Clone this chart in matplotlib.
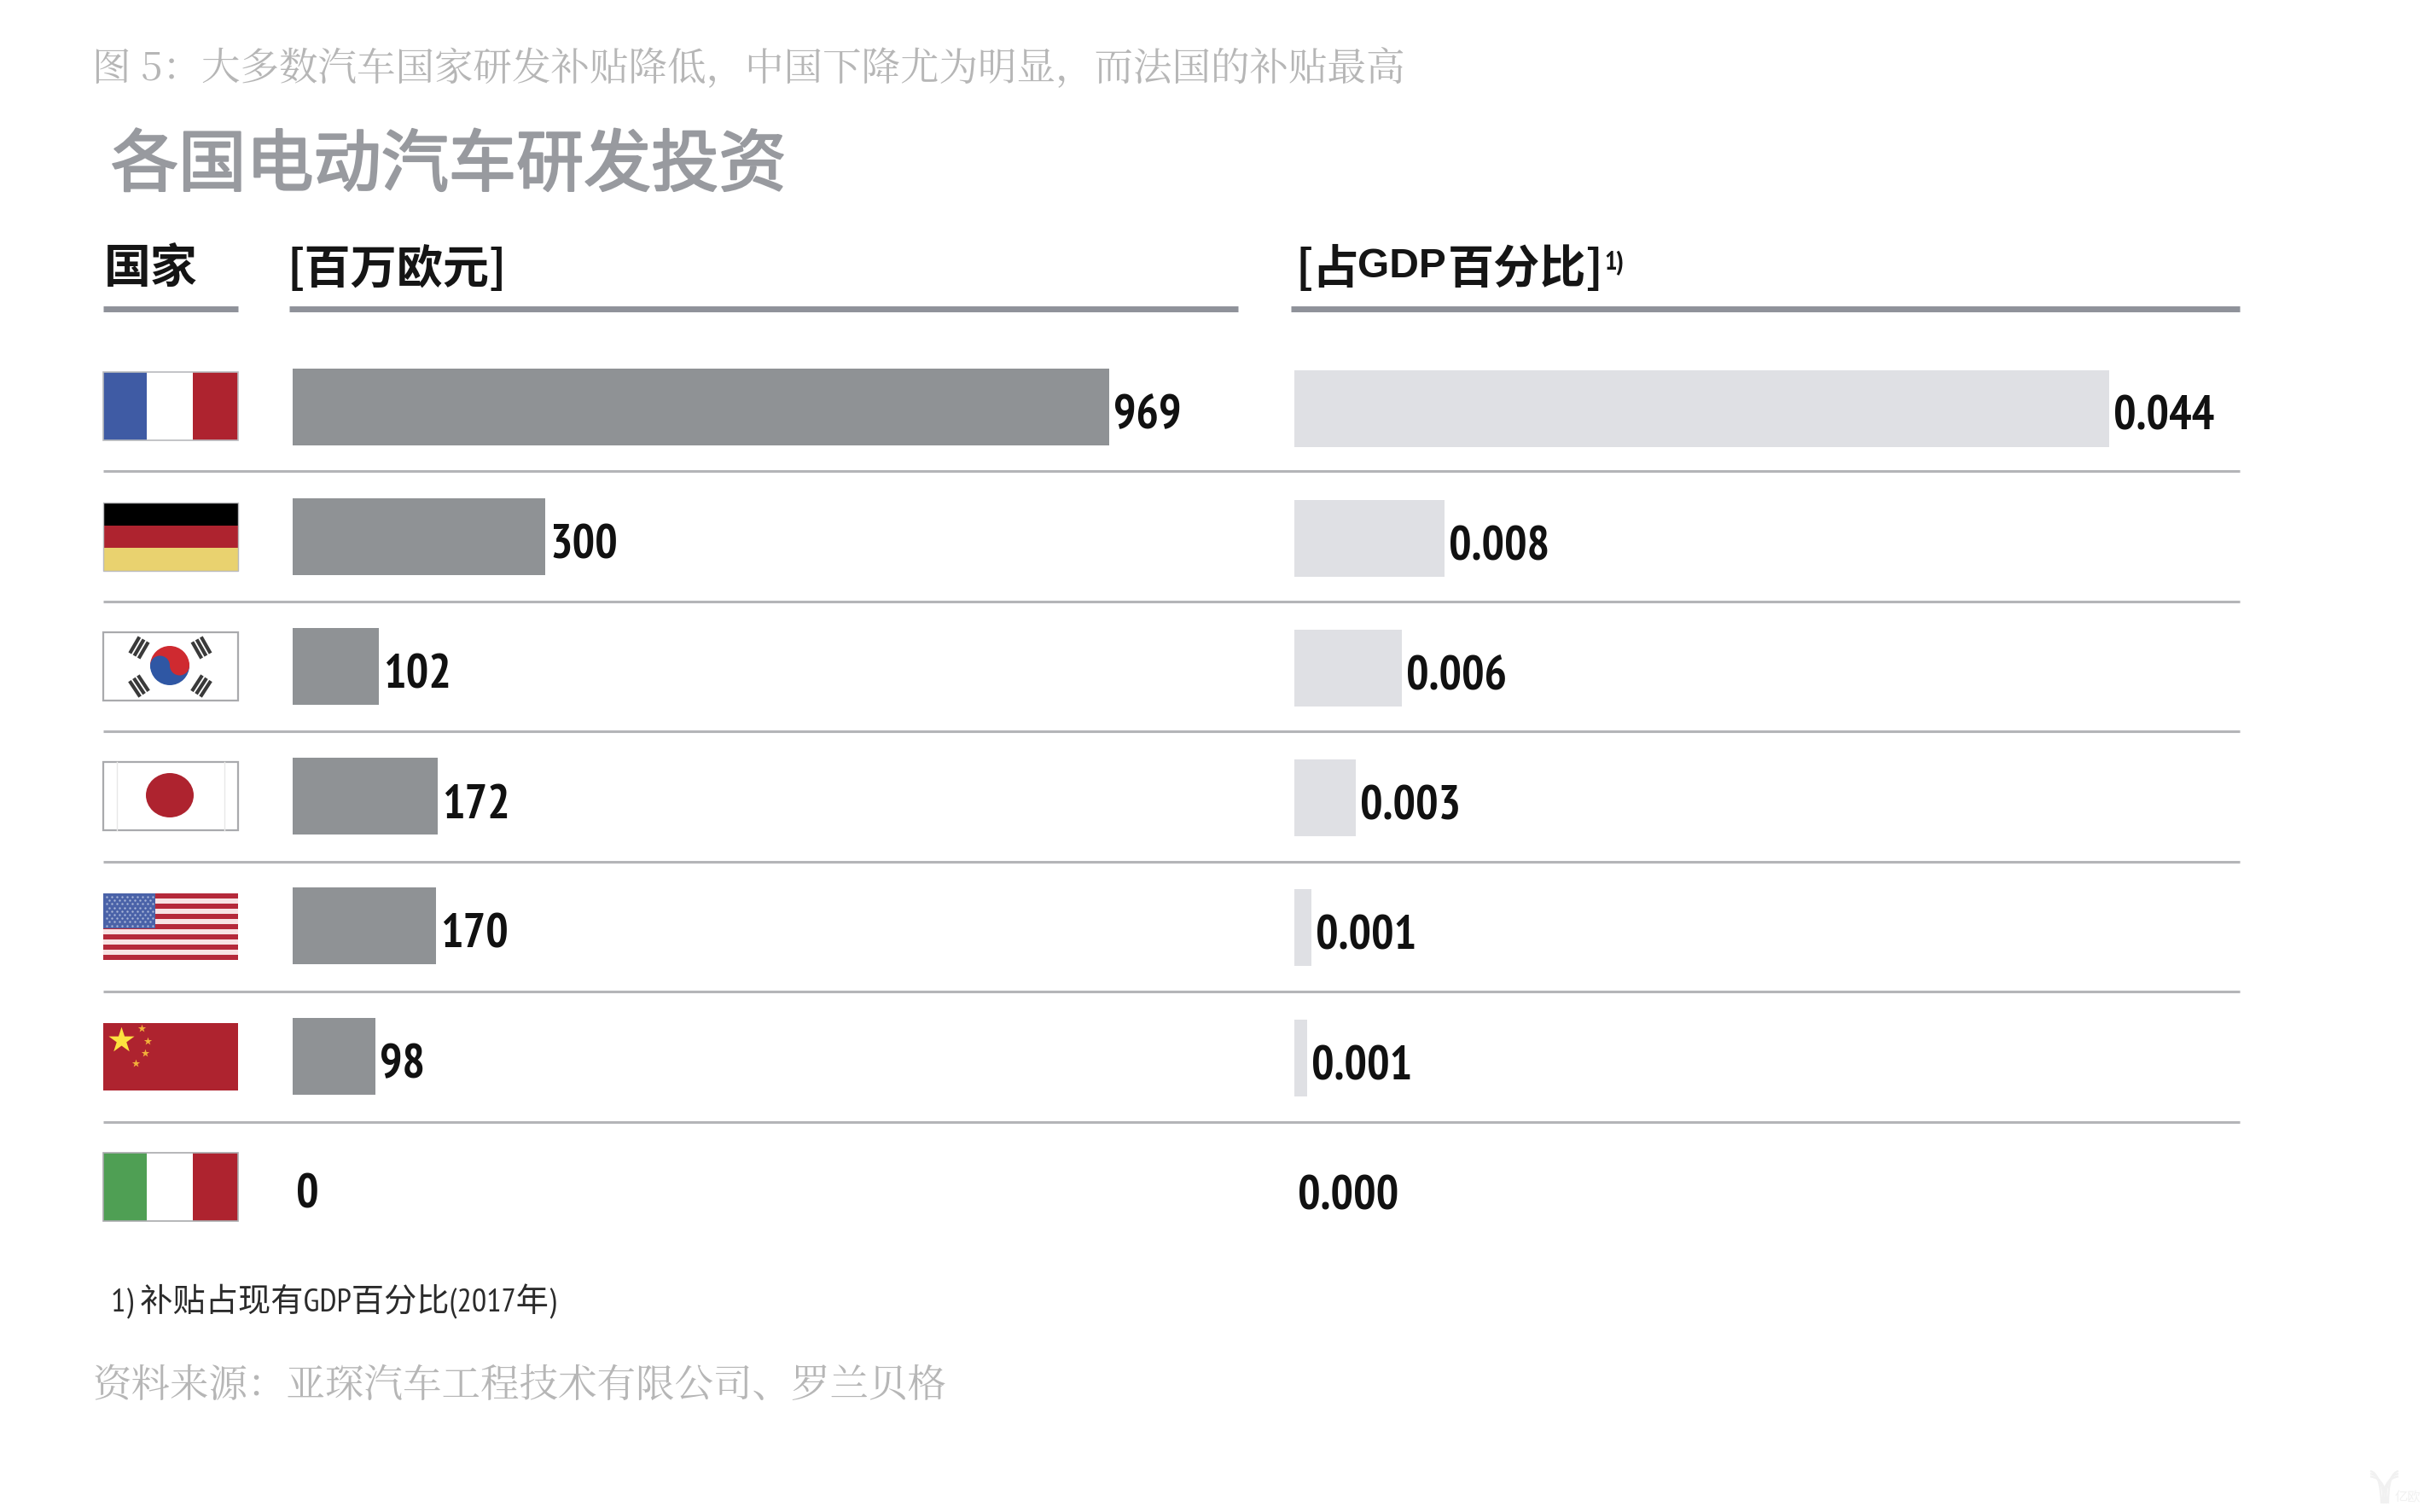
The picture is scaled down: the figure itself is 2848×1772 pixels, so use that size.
import numpy as np
import matplotlib
matplotlib.use("Agg")
import logging
logging.getLogger("matplotlib.font_manager").setLevel(logging.ERROR)
import matplotlib.pyplot as plt
import matplotlib.patheffects as pe
from matplotlib.patches import Rectangle, Ellipse, Wedge, Circle, PathPatch
from matplotlib.path import Path

countries = ["法国", "德国", "韩国", "日本", "美国", "中国", "意大利"]
rd_meur = [969, 300, 102, 172, 170, 98, 0]
rd_labels = ["969", "300", "102", "172", "170", "98", "0"]
gdp_share = [0.044, 0.0081, 0.0058, 0.0033, 0.0009, 0.0007, 0.0]
gdp_labels = ["0.044", "0.008", "0.006", "0.003", "0.001", "0.001", "0.000"]

CJK = "Noto Sans CJK SC"
SERIF = ["Noto Serif CJK SC", "Noto Serif SC", CJK]
NARROW = ["PT Sans Narrow", "Liberation Sans", CJK, "DejaVu Sans"]
W, H = 2848, 1772
fig = plt.figure(figsize=(W / 100, H / 100), dpi=100, facecolor="white")


def px_axes(x0, x1, y0, y1, **kw):
    return fig.add_axes([x0 / W, 1 - y1 / H, (x1 - x0) / W, (y1 - y0) / H], **kw)


def bar_panel(x0, x1, values, labels, vmax_px, vmax, color, y_first, label_dy):
    ax = px_axes(x0, x1, 400, 1480)
    pitch = 152.2
    ax.set_xlim(0, (x1 - x0) / vmax_px * vmax)
    ax.set_ylim((1480 - y_first) / pitch, (400 - y_first) / pitch)
    ax.barh(range(len(values)), values, height=90 / pitch, color=color, linewidth=0)
    ax.axis("off")
    ax.patch.set_alpha(0)
    for i, (v, t) in enumerate(zip(values, labels)):
        dx = 5 if v > 0 else 4
        ax.annotate(t, (v, i), xytext=(dx * 0.72, -label_dy * 0.72),
                    textcoords="offset points", va="center", ha="left",
                    fontsize=40, fontweight="bold", family=NARROW, color="#111111")
    return ax


bar_panel(343, 1451, rd_meur, rd_labels, 957, 969, "#8f9295", 476.5, 11)
bar_panel(1517, 2625, gdp_share, gdp_labels, 955, 0.044, "#dfe0e4", 478.5, 11)

ov = fig.add_axes([0, 0, 1, 1], zorder=5)
ov.set_xlim(0, W)
ov.set_ylim(H, 0)
ov.axis("off")
ov.patch.set_alpha(0)

# header and row rules
for a, b in [(121, 279), (339, 1451), (1513, 2625)]:
    ov.plot([a, b], [362, 362], color="#8f929a", lw=5, solid_capstyle="butt")
for y in [552, 705, 857, 1010, 1162, 1315]:
    ov.plot([121, 2625], [y, y], color="#b4b5b8", lw=2.2, solid_capstyle="butt")

# texts
HDR = "#151515"
ov.text(108, 82, "图 5：大多数汽车国家研发补贴降低，中国下降尤为明显，而法国的补贴最高",
        family=SERIF, fontsize=32.8, color="#b6b6b6", va="center")
ov.text(130, 195, "各国电动汽车研发投资", family=CJK, fontsize=57, color="#989a9f", va="center",
        path_effects=[pe.withStroke(linewidth=1.6, foreground="#989a9f")])
ov.text(122, 315, "国家", family=CJK, fontweight="bold", fontsize=39.5, color=HDR, va="center")
ov.text(337, 316, "[百万欧元]", family=CJK, fontweight="bold", fontsize=39, color=HDR, va="center")
ov.text(1518, 316, "[占", family=CJK, fontweight="bold", fontsize=39, color=HDR, va="center")
ov.text(1591, 312, "GDP", family="Liberation Sans", fontweight="bold", fontsize=34.5, color=HDR, va="center")
ov.text(1697, 316, "百分比]", family=CJK, fontweight="bold", fontsize=39, color=HDR, va="center")
ov.text(1880, 308, "1)", family=NARROW, fontweight="bold", fontsize=22, color=HDR, va="center")
ov.text(130, 1525, "1) 补贴占现有GDP百分比(2017年)", family=NARROW, fontsize=27.5, color="#2b2b2b", va="center")
ov.text(108, 1624, "资料来源：亚琛汽车工程技术有限公司、罗兰贝格", family=SERIF,
        fontsize=32.8, color="#b6b6b6", va="center")

# watermark
WM = "#f1f1f1"
for k in range(3):
    ln = 3.2 * k
    ov.add_patch(PathPatch(Path([(2778, 1724 + ln), (2790 + ln, 1726 + ln), (2791 + ln, 1762)],
                                [Path.MOVETO, Path.CURVE3, Path.CURVE3]),
                           fill=False, edgecolor=WM, lw=1.6))
    ov.add_patch(PathPatch(Path([(2811, 1724 + ln), (2799 - ln, 1726 + ln), (2799 - ln, 1762)],
                                [Path.MOVETO, Path.CURVE3, Path.CURVE3]),
                           fill=False, edgecolor=WM, lw=1.6))
ov.text(2822, 1755, "亿欧", family=CJK, fontsize=11, color=WM, ha="center", va="center")

# flags (decoration, in pixel coordinates)
FX0, FX1 = 121, 279
FH = 80
RED, BLUE, BORDER = "#ae232f", "#3f5ba4", "#a9aaad"


def rect(x0, y0, x1, y1, c, **kw):
    ov.add_patch(Rectangle((x0, y0), x1 - x0, y1 - y0, facecolor=c, edgecolor="none", **kw))


def frame(y, c=BORDER, lw=1.6):
    ov.add_patch(Rectangle((FX0, y), FX1 - FX0, FH, fill=False, edgecolor=c, lw=lw))


def tricolor_v(y, cs):
    xs = [FX0, 172, 226, FX1]
    for i, c in enumerate(cs):
        rect(xs[i], y, xs[i + 1], y + FH, c)
    frame(y, "#b9babd", 1.2)


tricolor_v(436, [BLUE, "white", RED])
# Germany
for i, c in enumerate(["#000000", RED, "#e9d26f"]):
    rect(FX0, 589 + i * FH / 3, FX1, 589 + (i + 1) * FH / 3, c)
frame(589, "#b9babd", 1.0)
# Korea
rect(FX0, 741, FX1, 821, "white")
frame(741)
kx, ky = 199, 780
ov.add_patch(Wedge((kx, ky), 23, 180, 360, facecolor="#cf2a30", edgecolor="none"))
ov.add_patch(Wedge((kx, ky), 23, 0, 180, facecolor="#2f57a4", edgecolor="none"))
ov.add_patch(Circle((kx - 11.5, ky), 11.5, facecolor="#2f57a4", edgecolor="none"))
ov.add_patch(Circle((kx + 11.5, ky), 11.5, facecolor="#cf2a30", edgecolor="none"))
for cx, cy in [(163, 759), (236, 759), (163, 804), (236, 804)]:
    rad = np.array([cx - kx, cy - ky], float)
    rad /= np.linalg.norm(rad)
    tan = np.array([-rad[1], rad[0]])
    for off in (-6, 0, 6):
        c0 = np.array([cx, cy]) + rad * off
        p, q = c0 - tan * 11, c0 + tan * 11
        ov.plot([p[0], q[0]], [p[1], q[1]], color="#3a3a3a", lw=3.0, solid_capstyle="butt")
# Japan
rect(FX0, 893, FX1, 973, "white")
for x in (137, 263):
    ov.plot([x, x], [893, 973], color="#e8e8e8", lw=1)
frame(893)
ov.add_patch(Ellipse((199, 932), 56, 52, facecolor=RED, edgecolor="none"))
# USA
ux0, uy0, uh = FX0, 1047, 78
for i in range(13):
    rect(ux0, uy0 + i * uh / 13, FX1, uy0 + (i + 1) * uh / 13, "#b5293a" if i % 2 == 0 else "#f8e3e4")
rect(ux0, uy0, 182, 1088, "#4a62a8")
for j, yy in enumerate(np.arange(1051, 1087, 4.2)):
    xs = np.arange(125 + (j % 2) * 3, 180, 6)
    ov.scatter(xs, [yy] * len(xs), s=3, color="#a9b6d8", linewidths=0)
# China
rect(FX0, 1199, FX1, 1278, RED)
ov.scatter([142], [1219], marker="*", s=520, color="#fce33f", linewidths=0, zorder=6)
ov.scatter([166, 173, 170, 159], [1205, 1220, 1234, 1246], marker="*", s=50,
           color="#f3b13a", linewidths=0, zorder=6)
# Italy
rect(FX0, 1351, 172, 1431, "#4f9f54")
rect(172, 1351, 226, 1431, "white")
rect(226, 1351, FX1, 1431, RED)
frame(1351, "#a9aaad", 1.2)

fig.savefig("out.png", dpi=100, facecolor="white")
